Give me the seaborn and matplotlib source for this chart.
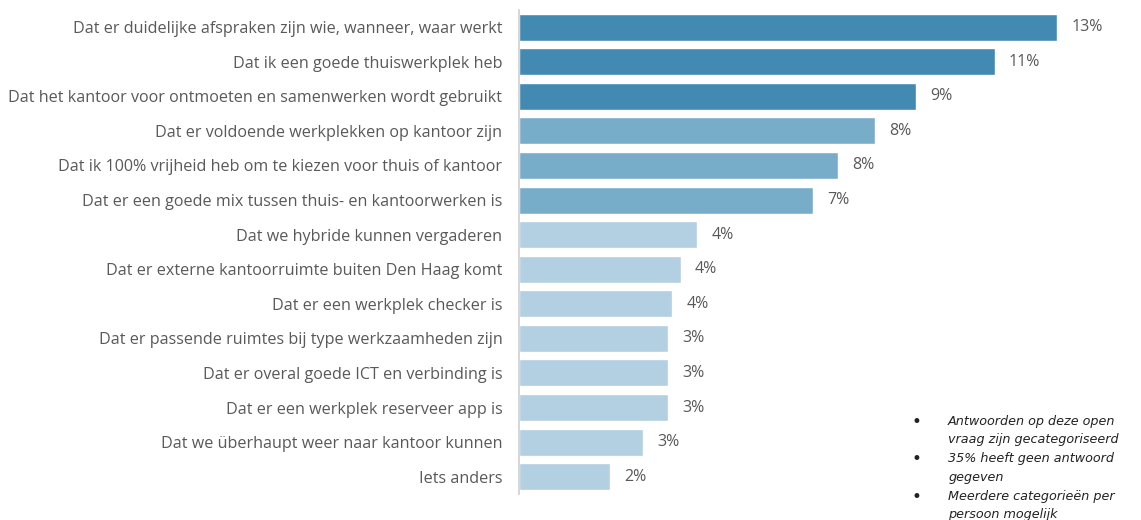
import pandas as pd
import numpy as np
import matplotlib
matplotlib.use('Agg')
import matplotlib.pyplot as plt
import seaborn as sns

categories = [
    'Dat er duidelijke afspraken zijn wie, wanneer, waar werkt',
    'Dat ik een goede thuiswerkplek heb',
    'Dat het kantoor voor ontmoeten en samenwerken wordt gebruikt',
    'Dat er voldoende werkplekken op kantoor zijn',
    'Dat ik 100% vrijheid heb om te kiezen voor thuis of kantoor',
    'Dat er een goede mix tussen thuis- en kantoorwerken is',
    'Dat we hybride kunnen vergaderen',
    'Dat er externe kantoorruimte buiten Den Haag komt',
    'Dat er een werkplek checker is',
    'Dat er passende ruimtes bij type werkzaamheden zijn',
    'Dat er overal goede ICT en verbinding is',
    'Dat er een werkplek reserveer app is',
    'Dat we überhaupt weer naar kantoor kunnen',
    'Iets anders',
]
values = [13.0, 11.5, 9.6, 8.6, 7.7, 7.1, 4.3, 3.9, 3.7, 3.6, 3.6, 3.6, 3.0, 2.2]
value_labels = ['13%', '11%', '9%', '8%', '8%', '7%', '4%', '4%', '4%',
                '3%', '3%', '3%', '3%', '2%']
tiers = ['hoog'] * 3 + ['midden'] * 3 + ['laag'] * 8
tier_colors = {'hoog': '#428ab2', 'midden': '#78adca', 'laag': '#b3d0e2'}

notes = [
    'Antwoorden op deze open\nvraag zijn gecategoriseerd',
    '35% heeft geen antwoord\ngegeven',
    'Meerdere categorieën per\npersoon mogelijk',
]

df = pd.DataFrame({'categorie': categories, 'waarde': values, 'tier': tiers})

sns.set_style('white')
plt.rcParams['font.family'] = ['Open Sans', 'DejaVu Sans']

fig = plt.figure(figsize=(11.41, 5.20), dpi=100)
ax = fig.add_axes([0.455, 0.05, 0.545, 0.931])

sns.barplot(data=df, y='categorie', x='waarde', hue='tier', palette=tier_colors,
            dodge=False, legend=False, width=0.78, saturation=1, ax=ax)

for patch, lab in zip(ax.patches, value_labels):
    ax.text(patch.get_width() + 0.34, patch.get_y() + patch.get_height() / 2, lab,
            va='center', ha='left', fontsize=11.5, color='#595959')

ax.set_xlim(0, 15.03)
ax.set_xlabel('')
ax.set_ylabel('')
ax.set_xticks([])
ax.tick_params(axis='y', length=0, pad=12, labelsize=11.6, labelcolor='#595959')
for s in ['top', 'right', 'bottom']:
    ax.spines[s].set_visible(False)
ax.spines['left'].set_color('#d0d0d0')
ax.spines['left'].set_linewidth(1.2)

# notities rechtsonder
y = 0.172
for n in notes:
    fig.text(0.799, y + 0.017, '•', fontsize=12, color='#222222', va='center',
             family='DejaVu Sans')
    fig.text(0.831, y, n, fontsize=9.2, style='italic', color='#222222',
             va='center', linespacing=1.55, transform=fig.transFigure,
             family='DejaVu Sans')
    y -= 0.072

fig.savefig('out.png', dpi=100)
